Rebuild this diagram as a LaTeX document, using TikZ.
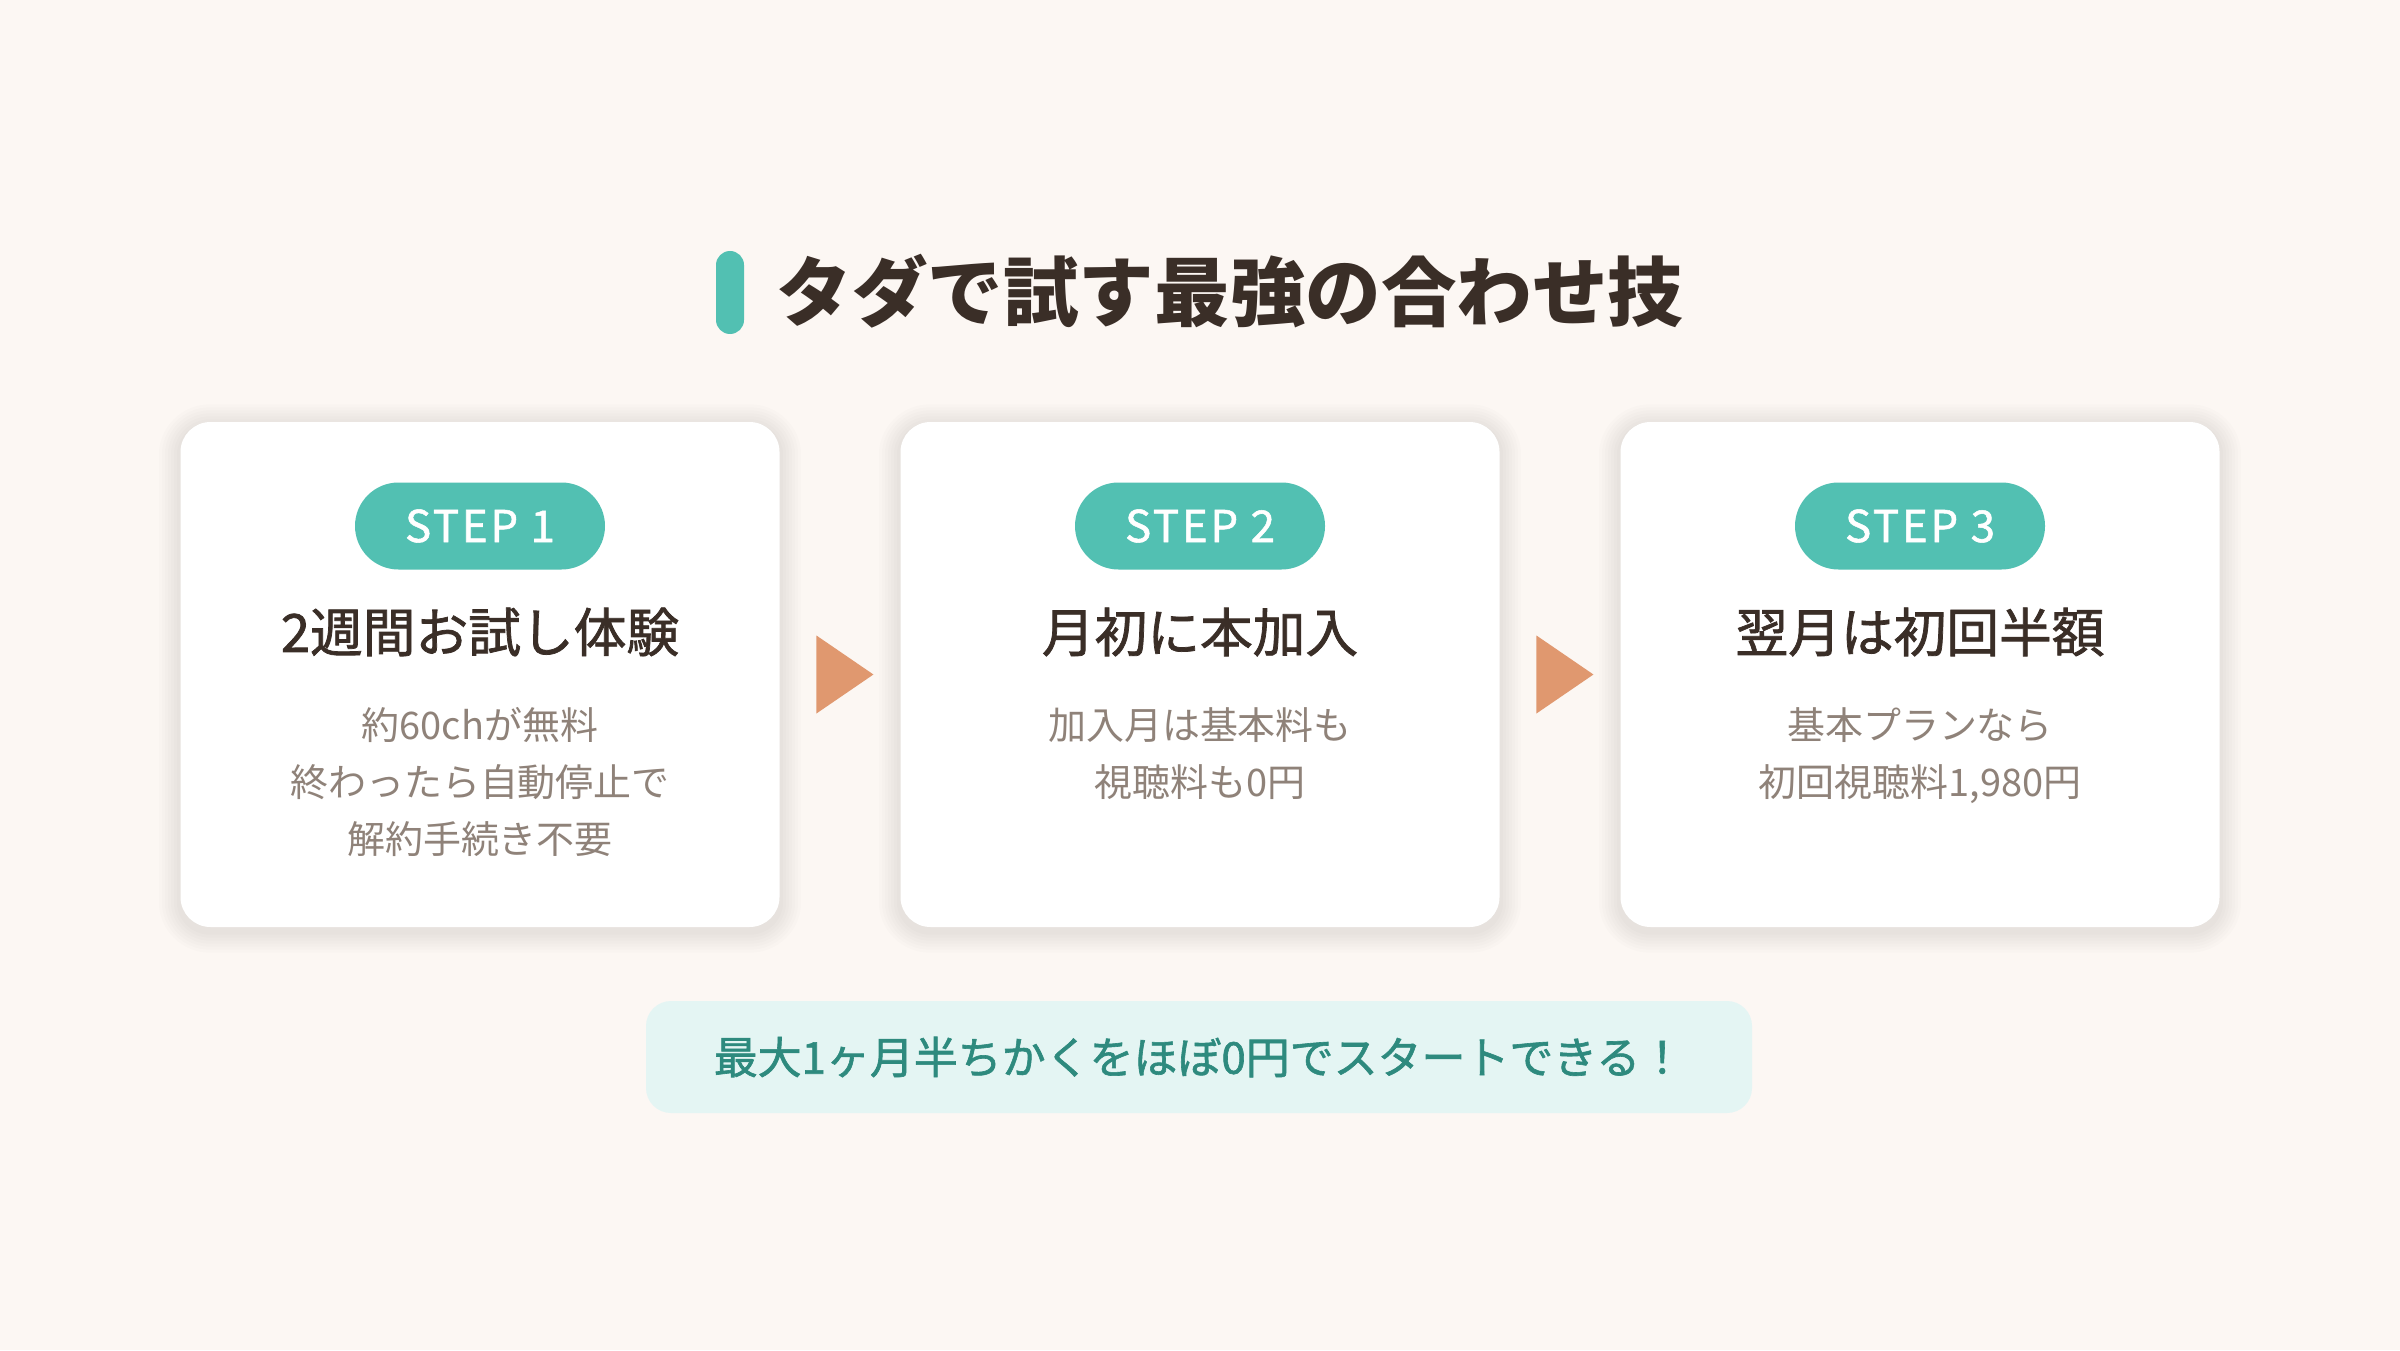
\documentclass[tikz,border=0pt]{standalone}
\usepackage{fontspec}
\setmainfont{Noto Sans CJK JP}
\newfontfamily\stepfont[LetterSpace=6,FakeBold=1.2]{Noto Sans CJK JP}
\newfontfamily\medfont[FakeBold=1.4]{Noto Sans CJK JP}
\usetikzlibrary{calc,positioning,shapes.geometric,backgrounds}

\definecolor{bgcol}{HTML}{FCF7F3}
\definecolor{tealcol}{HTML}{52C0B2}
\definecolor{darkcol}{HTML}{3A2E27}
\definecolor{greycol}{HTML}{8F8279}
\definecolor{orangecol}{HTML}{E0986F}
\definecolor{bannerfill}{HTML}{E4F5F3}
\definecolor{bannertext}{HTML}{2E8A7E}

\begin{document}
\begin{tikzpicture}[
    every node/.style={inner sep=0pt},
    card/.style={fill=white, rounded corners=0.3cm, minimum width=5.99cm, minimum height=5.05cm},
    pill/.style={fill=tealcol, rounded corners=0.435cm, minimum width=2.5cm, minimum height=0.87cm,
      text=white, font=\stepfont\fontsize{12.5}{14}\selectfont},
    head/.style={text=darkcol, font=\medfont\fontsize{15}{18}\selectfont},
    sub/.style={text=greycol, align=center, anchor=north, font=\fontsize{10.8}{16.2}\selectfont},
    tri/.style={fill=orangecol, isosceles triangle, isosceles triangle apex angle=69,
      minimum height=0.57cm, minimum width=0.78cm, isosceles triangle stretches}
  ]
    \useasboundingbox (0,0) rectangle (24,13.5);
    % title
    \node[fill=tealcol, rounded corners=0.14cm, minimum width=0.28cm, minimum height=0.83cm] (bar) at (7.30,10.575) {};
    \node[anchor=west, text=darkcol, font=\bfseries\fontsize{21.5}{26}\selectfont] (title) at (7.76,10.59) {タダで試す最強の合わせ技};
    % cards
    \node[card] (card1) at (4.80,6.755) {};
    \node[card] (card2) at (12.00,6.755) {};
    \node[card] (card3) at (19.20,6.755) {};
    \node[pill] (step1) at (4.80,8.24) {STEP 1};
    \node[pill] (step2) at (12.00,8.24) {STEP 2};
    \node[pill] (step3) at (19.20,8.24) {STEP 3};
    \node[head] (head1) at (4.80,7.18) {2週間お試し体験};
    \node[head] (head2) at (12.00,7.18) {月初に本加入};
    \node[head] (head3) at (19.20,7.18) {翌月は初回半額};
    \node[sub] (sub1) at (4.80,6.43) {約60chが無料\\終わったら自動停止で\\解約手続き不要};
    \node[sub] (sub2) at (12.00,6.43) {加入月は基本料も\\視聴料も0円};
    \node[sub] (sub3) at (19.20,6.43) {基本プランなら\\初回視聴料1,980円};
    % arrows between cards
    \node[tri] (tri1) at ($(card1.east)!0.5!(card2.west)+(-0.03,0)$) {};
    \node[tri] (tri2) at ($(card2.east)!0.5!(card3.west)+(-0.03,0)$) {};
    % banner
    \node[fill=bannerfill, rounded corners=0.25cm, minimum width=11.06cm, minimum height=1.12cm,
      text=bannertext, font=\medfont\fontsize{12.5}{15}\selectfont] (banner) at (11.99,2.93)
      {最大1ヶ月半ちかくをほぼ0円でスタートできる！};
    % page colour and soft card shadows
    \begin{scope}[on background layer]
      \fill[bgcol] (0,0) rectangle (24,13.5);
      \foreach \c in {card1,card2,card3}
        \foreach \k in {1,...,7}
          \fill[black, opacity=0.01, rounded corners=0.3cm+\k*0.03cm]
            ($(\c.south west)+(-\k*0.03,-\k*0.03-0.04)$) rectangle ($(\c.north east)+(\k*0.03,\k*0.03-0.04)$);
    \end{scope}
\end{tikzpicture}
\end{document}
